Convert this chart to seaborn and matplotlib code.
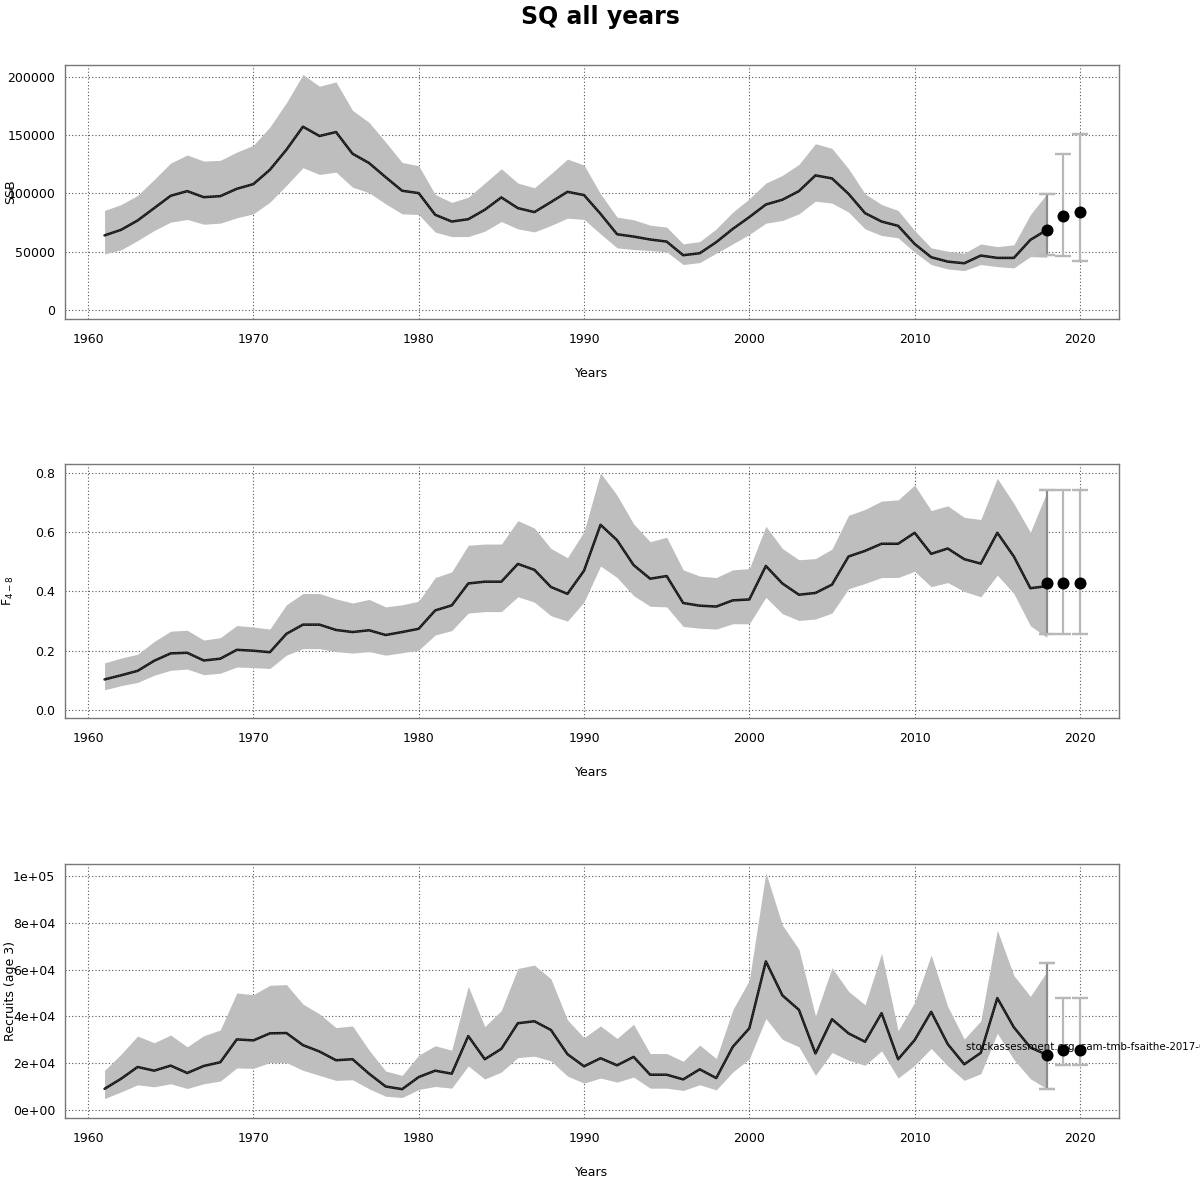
import numpy as np
import matplotlib
matplotlib.use("Agg")
import matplotlib.pyplot as plt
import seaborn as sns

# ---------------------------------------------------------------
# data
# ---------------------------------------------------------------
years = np.arange(1961, 2019)
fc_years = [2018, 2019, 2020]

ssb_med = [64000, 68800, 76800, 87400, 98000, 102000, 96800, 97700, 104000, 108000,
           120300, 137500, 157300, 149300, 152700, 134100, 126100, 114000, 102300, 100300,
           81700, 75900, 77900, 86000, 96600, 87400, 84000, 92600, 101400, 98600,
           82500, 65000, 63000, 60500, 58700, 47000, 48700, 58200, 69600, 79700,
           90500, 94600, 102000, 115500, 112900, 99700, 83100, 75900, 72200, 56700,
           45300, 41500, 40100, 46700, 44700, 44700, 60200, 68800]
ssb_hi = [85400, 90500, 98300, 112000, 126100, 133000, 127800, 128400, 135500, 141300,
          157000, 177900, 202000, 192000, 195700, 171300, 161000, 144100, 126600, 123800,
          99100, 92300, 96800, 108900, 121200, 108900, 104900, 116900, 129500, 124400,
          99700, 79700, 77400, 72800, 71100, 56700, 58700, 69600, 84000, 95400,
          108900, 115500, 124900, 142700, 138700, 121200, 99700, 90500, 85400, 68200,
          53300, 50400, 48700, 56700, 54400, 55900, 81900, 99700]
ssb_lo = [48100, 51600, 59600, 68200, 75400, 77700, 73600, 74500, 79100, 82500,
          92500, 106900, 122100, 116300, 118300, 105400, 100600, 91100, 82500, 81900,
          66800, 63000, 63000, 67600, 75900, 69600, 67000, 72500, 78800, 77700,
          65300, 53300, 51900, 51000, 49900, 39000, 40700, 48700, 56700, 64800,
          74500, 76800, 82500, 93400, 91700, 84000, 69600, 63900, 61900, 49600,
          39000, 35200, 33800, 39000, 37200, 36100, 45800, 45300]
ssb_fc_med = [68800, 80500, 84200]
ssb_fc_lo = [47300, 46100, 42400]
ssb_fc_hi = [99700, 133500, 151000]

f_med = [0.103, 0.117, 0.132, 0.166, 0.191, 0.193, 0.167, 0.173, 0.203, 0.200,
         0.195, 0.257, 0.288, 0.288, 0.270, 0.263, 0.269, 0.253, 0.263, 0.274,
         0.336, 0.353, 0.427, 0.433, 0.433, 0.493, 0.473, 0.415, 0.392, 0.470,
         0.625, 0.573, 0.489, 0.443, 0.452, 0.361, 0.352, 0.349, 0.370, 0.373,
         0.486, 0.427, 0.389, 0.395, 0.423, 0.518, 0.537, 0.561, 0.561, 0.598,
         0.527, 0.545, 0.509, 0.494, 0.598, 0.518, 0.411, 0.418]
f_hi = [0.159, 0.175, 0.188, 0.231, 0.266, 0.269, 0.236, 0.244, 0.285, 0.280,
        0.273, 0.355, 0.393, 0.393, 0.375, 0.361, 0.373, 0.348, 0.355, 0.367,
        0.447, 0.466, 0.556, 0.560, 0.560, 0.639, 0.614, 0.545, 0.514, 0.602,
        0.800, 0.725, 0.628, 0.568, 0.583, 0.473, 0.452, 0.447, 0.473, 0.477,
        0.620, 0.545, 0.507, 0.511, 0.543, 0.657, 0.677, 0.705, 0.709, 0.759,
        0.673, 0.689, 0.650, 0.643, 0.782, 0.697, 0.600, 0.736]
f_lo = [0.068, 0.082, 0.093, 0.117, 0.134, 0.138, 0.119, 0.124, 0.145, 0.143,
        0.140, 0.185, 0.207, 0.207, 0.197, 0.192, 0.197, 0.185, 0.193, 0.202,
        0.253, 0.268, 0.327, 0.332, 0.332, 0.382, 0.364, 0.318, 0.300, 0.364,
        0.486, 0.447, 0.386, 0.350, 0.348, 0.282, 0.276, 0.273, 0.291, 0.291,
        0.380, 0.325, 0.302, 0.307, 0.327, 0.409, 0.427, 0.447, 0.447, 0.468,
        0.416, 0.430, 0.400, 0.382, 0.455, 0.393, 0.284, 0.245]
f_fc_med = [0.428, 0.428, 0.428]
f_fc_lo = [0.255, 0.255, 0.255]
f_fc_hi = [0.742, 0.742, 0.742]

rec_med = [9050, 13360, 18390, 16810, 18970, 15810, 18830, 20410, 30180, 29750,
           32760, 32910, 27730, 25000, 21270, 21700, 15520, 10060, 8910, 14080,
           16810, 15520, 31610, 21700, 26150, 37080, 37940, 34200, 23850, 18680,
           22130, 19110, 22710, 15090, 15090, 13080, 17390, 13650, 27020, 34920,
           63520, 49000, 42820, 24140, 38800, 32760, 29170, 41390, 21700, 29890,
           41960, 28170, 19540, 24430, 47850, 35350, 26730, 23570]
rec_hi = [16960, 23850, 31610, 28740, 32050, 27020, 31760, 34200, 50010, 49290,
          53310, 53600, 45270, 41100, 35210, 35930, 25580, 16670, 14800, 23420,
          27450, 25580, 52880, 35640, 42540, 60500, 61940, 56040, 38510, 30900,
          35930, 30610, 36640, 24140, 24140, 20840, 27730, 21990, 42820, 55470,
          101450, 79040, 68690, 40240, 60790, 50730, 44980, 66960, 33910, 45980,
          66250, 44260, 30320, 38080, 76880, 57480, 48570, 59200]
rec_lo = [4890, 7760, 10780, 9920, 11210, 9200, 11210, 12360, 17960, 17820,
          20260, 20260, 16960, 14800, 12650, 12930, 9050, 5890, 5320, 8770,
          10060, 9340, 18830, 13220, 16240, 22420, 22990, 20980, 14510, 11500,
          13650, 11930, 14080, 9340, 9340, 8340, 10780, 8620, 16240, 21840,
          39090, 30180, 27020, 14800, 24570, 21270, 19110, 25290, 13650, 19110,
          26300, 18830, 12650, 15520, 32760, 21560, 13360, 9050]
rec_fc_med = [23570, 25580, 25580]
rec_fc_lo = [8910, 19400, 19400]
rec_fc_hi = [62650, 47850, 47850]

x_ticks = [1960, 1970, 1980, 1990, 2000, 2010, 2020]
ssb_ticks = [0, 50000, 100000, 150000, 200000]
ssb_tick_labels = ["0", "50000", "100000", "150000", "200000"]
f_ticks = [0.0, 0.2, 0.4, 0.6, 0.8]
f_tick_labels = ["0.0", "0.2", "0.4", "0.6", "0.8"]
rec_ticks = [0, 20000, 40000, 60000, 80000, 100000]
rec_tick_labels = ["0e+00", "2e+04", "4e+04", "6e+04", "8e+04", "1e+05"]

# ---------------------------------------------------------------
# figure
# ---------------------------------------------------------------
sns.set_style("white")
plt.rcParams['font.family'] = ['DejaVu Sans']
plt.rcParams['text.color'] = 'black'
plt.rcParams['axes.labelcolor'] = 'black'

fig = plt.figure(figsize=(12, 12), dpi=100)
fig.suptitle("SQ all years", fontsize=17, fontweight='bold', y=0.996, color='black')

panels = [
    dict(bottom=0.7342, med=ssb_med, lo=ssb_lo, hi=ssb_hi,
         fmed=ssb_fc_med, flo=ssb_fc_lo, fhi=ssb_fc_hi,
         ticks=ssb_ticks, labels=ssb_tick_labels, ylim=(-7700, 210300),
         ylabel="SSB", ylab_x=-0.052),
    dict(bottom=0.4017, med=f_med, lo=f_lo, hi=f_hi,
         fmed=f_fc_med, flo=f_fc_lo, fhi=f_fc_hi,
         ticks=f_ticks, labels=f_tick_labels, ylim=(-0.027, 0.8305),
         ylabel=r"$\mathregular{F_{4-8}}$", ylab_x=-0.054),
    dict(bottom=0.0683, med=rec_med, lo=rec_lo, hi=rec_hi,
         fmed=rec_fc_med, flo=rec_fc_lo, fhi=rec_fc_hi,
         ticks=rec_ticks, labels=rec_tick_labels, ylim=(-3433, 105150),
         ylabel="Recruits (age 3)", ylab_x=-0.052),
]

bar_colors = ['#8c8c8c', '#b8b8b8', '#b8b8b8']

for p in panels:
    ax = fig.add_axes([0.0542, p['bottom'], 0.8783, 0.2117])

    # confidence band + median line
    ax.fill_between(years, p['lo'], p['hi'], color='#bebebe', lw=0, zorder=1)
    sns.lineplot(x=years, y=p['med'], ax=ax, color='#111111', lw=1.8, zorder=3)
    sns.lineplot(x=years, y=p['med'], ax=ax, color='#555555', lw=0.6,
                 linestyle=(0, (1.5, 1.5)), zorder=4)

    # forecast years
    for yr, m, lo, hi, c in zip(fc_years, p['fmed'], p['flo'], p['fhi'], bar_colors):
        ax.errorbar(yr, m, yerr=[[m - lo], [hi - m]], fmt='none', ecolor=c,
                    elinewidth=1.6, capsize=5.8, capthick=1.6, zorder=2)
        ax.errorbar(yr, m, yerr=[[m - lo], [hi - m]], fmt='none', ecolor='#b8b8b8',
                    elinewidth=0, capsize=5.8, capthick=1.6, zorder=2)
    sns.scatterplot(x=fc_years, y=p['fmed'], ax=ax, color='black', s=75,
                    edgecolor='black', linewidth=0, zorder=5)

    ax.set_xlim(1958.61, 2022.36)
    ax.set_ylim(*p['ylim'])
    ax.set_xticks(x_ticks)
    ax.set_xticklabels([str(t) for t in x_ticks])
    ax.set_yticks(p['ticks'])
    ax.set_yticklabels(p['labels'])

    ax.grid(True, color='#555555', linestyle=(0, (1, 2)), lw=0.8)
    ax.set_axisbelow(True)
    for s in ax.spines.values():
        s.set_color('#777777')
        s.set_linewidth(1.0)
    ax.tick_params(axis='both', direction='out', length=5, width=1, color='#666666',
                   labelsize=9, labelcolor='black')
    ax.tick_params(axis='x', pad=5)
    ax.tick_params(axis='y', pad=2)

    ax.set_xlabel("Years", fontsize=9)
    ax.xaxis.set_label_coords(0.5, -0.19)
    ax.set_ylabel(p['ylabel'], fontsize=9, va='center')
    ax.yaxis.set_label_coords(p['ylab_x'], 0.5)

# source note in the last panel (runs off the right edge, as in the original)
ax.text(2013.1, 27000, "stockassessment.org, sam-tmb-fsaithe-2017-01",
        fontsize=7.4, va='center', ha='left', clip_on=False, zorder=6)

fig.savefig("out.png", dpi=100)
